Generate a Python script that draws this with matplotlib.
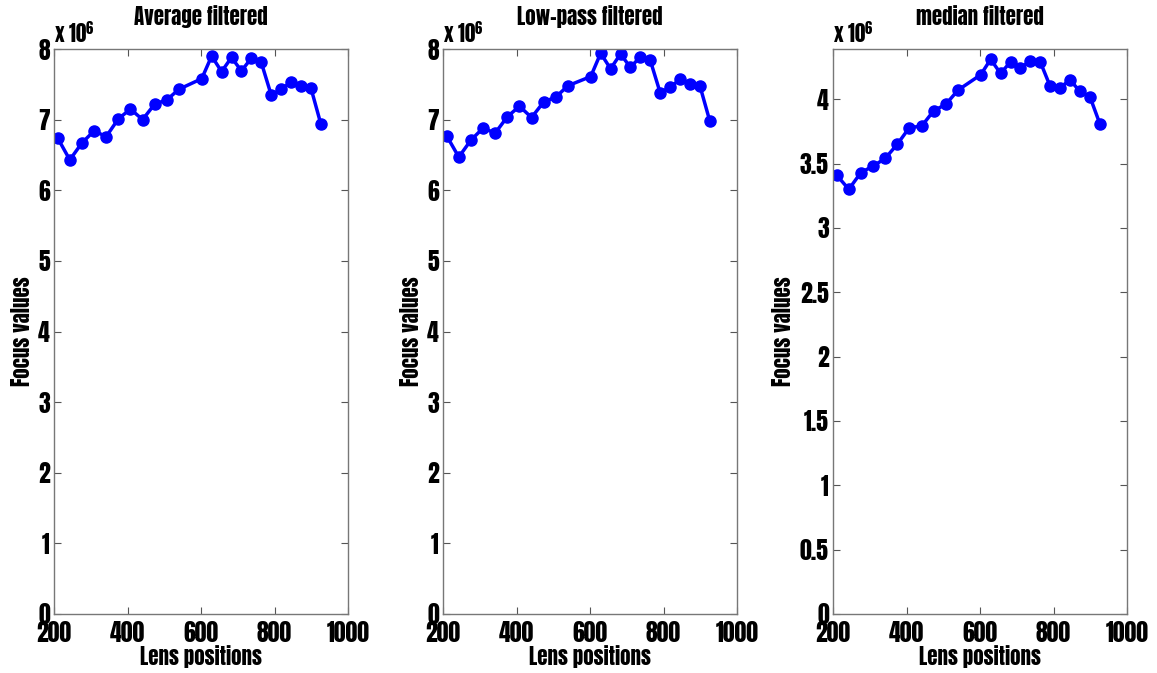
import numpy as np
import matplotlib as mpl
mpl.use("Agg")
import matplotlib.pyplot as plt

plt.rcParams["font.family"] = ["Anton", "DejaVu Sans"]
plt.rcParams["mathtext.fontset"] = "custom"
plt.rcParams["mathtext.rm"] = "Anton"

# lens positions (shared by all three filters)
lens = [210, 243, 276, 309, 342, 375, 408, 441, 474, 507, 540, 602,
        629, 656, 683, 710, 737, 764, 791, 818, 845, 872, 899, 926]

# focus values, in units of 1e6
avg_vals = [6.74, 6.43, 6.67, 6.84, 6.76, 7.01, 7.15, 7.00, 7.22, 7.28, 7.43, 7.58,
            7.90, 7.68, 7.88, 7.69, 7.87, 7.81, 7.35, 7.43, 7.53, 7.47, 7.45, 6.94]
lp_vals = [6.77, 6.47, 6.71, 6.88, 6.81, 7.04, 7.19, 7.03, 7.25, 7.32, 7.48, 7.61,
           7.94, 7.72, 7.93, 7.74, 7.89, 7.84, 7.38, 7.46, 7.57, 7.51, 7.48, 6.98]
med_vals = [3.41, 3.30, 3.43, 3.48, 3.54, 3.65, 3.78, 3.79, 3.91, 3.96, 4.07, 4.19,
            4.31, 4.20, 4.29, 4.24, 4.30, 4.29, 4.10, 4.09, 4.15, 4.06, 4.02, 3.81]

titles = ["Average filtered", "Low-pass filtered", "median filtered"]
ylims = [(0, 8), (0, 8), (0, 4.39)]
yticks = [np.arange(0, 9, 1), np.arange(0, 9, 1), np.arange(0, 4.01, 0.5)]
lefts = [54, 443, 833]

W, H = 1157, 673
fig = plt.figure(figsize=(W / 100, H / 100), dpi=100)

for vals, title, yl, yt, lx in zip([avg_vals, lp_vals, med_vals], titles, ylims, yticks, lefts):
    ax = fig.add_axes([lx / W, (H - 614) / H, 294 / W, 565 / H])
    ax.plot(lens, vals, color=(0, 0, 1), lw=2.5, marker="o", ms=8)
    ax.set_xlim(200, 1000)
    ax.set_ylim(*yl)
    ax.set_xticks([200, 400, 600, 800, 1000])
    ax.set_yticks(yt)
    ax.set_yticklabels([f"{v:g}" for v in yt])
    ax.tick_params(direction="in", top=True, right=True, length=5, width=0.8,
                   color="#555555", labelsize=17)
    ax.tick_params(axis="x", pad=5)
    ax.tick_params(axis="y", pad=3)
    for s in ax.spines.values():
        s.set_color("#777777")
        s.set_linewidth(1.0)
    ax.set_xlabel("Lens positions", fontsize=15, labelpad=0)
    ax.set_ylabel("Focus values", fontsize=15, labelpad=4)
    ax.set_title(title, fontsize=15, pad=17)
    ax.text(0.0, 1.006, r"x 10$^{6}$", transform=ax.transAxes, fontsize=15,
            ha="left", va="bottom")

fig.savefig("out.png", dpi=100)
